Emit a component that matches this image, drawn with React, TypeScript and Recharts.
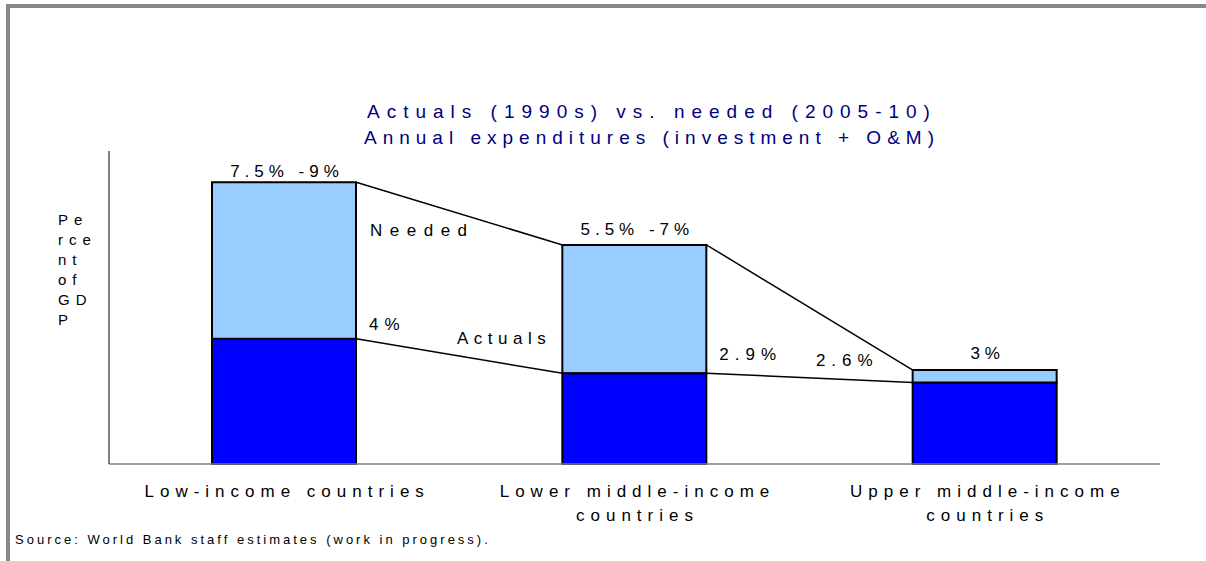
import { ComposedChart, Bar, Line, XAxis, YAxis, LabelList } from "recharts";

const categories = [
  "Low-income countries",
  "Lower middle-income countries",
  "Upper middle-income countries",
];
const tickLines = [
  ["Low-income countries"],
  ["Lower middle-income", "countries"],
  ["Upper middle-income", "countries"],
];
const actuals = [4, 2.9, 2.6];
const neededTotal = [9, 7, 3];
const neededLabels = ["7.5% -9%", "5.5% -7%", "3%"];
const actualLabels = ["4%", "2.9%", "2.6%"];
const titleLines = [
  "Actuals (1990s) vs. needed (2005-10)",
  "Annual expenditures (investment + O&M)",
];
const yLabelLines = ["Pe", "rce", "nt", "of", "GD", "P"];
const sourceNote = "Source: World Bank staff estimates (work in progress).";

const W = 1206;
const H = 561;
const MARGIN = { top: 151, right: 46, bottom: 37, left: 108 };
const Y_AXIS_W = 1;
const BAR_SIZE = 144;
const FONT = "'Liberation Sans', Arial, Helvetica, sans-serif";

const data = categories.map((name, i) => ({
  name,
  actual: actuals[i],
  gap: neededTotal[i] - actuals[i],
}));

// connector lines run between bar edges, on a hidden numeric x axis [0, n]
const bandPx = (W - MARGIN.left - Y_AXIS_W - MARGIN.right) / categories.length;
const half = BAR_SIZE / 2 / bandPx;
const edgePoints = (vals: number[]) => {
  const pts: { pos: number; v: number }[] = [];
  vals.forEach((v, i) => {
    if (i > 0) pts.push({ pos: i + 0.5 - half, v });
    if (i < vals.length - 1) pts.push({ pos: i + 0.5 + half, v });
  });
  return pts;
};
const neededLine = edgePoints(neededTotal);
const actualLine = edgePoints(actuals);

const CategoryTick = (props: any) => {
  const { x, y, payload } = props;
  const idx = categories.indexOf(payload.value);
  const lines = tickLines[idx] ?? [payload.value];
  return (
    <text x={x + 3} y={y} textAnchor="middle" fontSize={17} letterSpacing={6} fill="#000" fontFamily={FONT}>
      {lines.map((l, i) => (
        <tspan key={i} x={x + 3} dy={i === 0 ? 25 : 24}>
          {l}
        </tspan>
      ))}
    </text>
  );
};

const NeededLabel = (props: any) => {
  const { x, y, width, index } = props;
  const off = [5, 10, 11][index] ?? 8;
  return (
    <text x={x + width / 2 + 3} y={y - off} textAnchor="middle" fontSize={17} letterSpacing={5} fill="#000" fontFamily={FONT}>
      {neededLabels[index]}
    </text>
  );
};

const ActualLabel = (props: any) => {
  const { x, y, width, index } = props;
  const last = index === actuals.length - 1;
  return (
    <text
      x={last ? x - 34 : x + width + 13}
      y={y - [9, 13, 17][index]}
      textAnchor={last ? "end" : "start"}
      fontSize={17}
      letterSpacing={6}
      fill="#000"
      fontFamily={FONT}
    >
      {actualLabels[index]}
    </text>
  );
};

export default function App() {
  return (
    <div style={{ position: "absolute", left: 0, top: 0, width: W, height: H, background: "#fff", fontFamily: FONT }}>
      <div
        style={{
          position: "absolute",
          left: 6,
          top: 4,
          right: 0,
          bottom: 0,
          borderTop: "4px solid #888",
          borderLeft: "4px solid #888",
        }}
      />
      <ComposedChart width={W} height={H} data={data} margin={MARGIN} style={{ position: "absolute", left: 0, top: 0 }}>
        <XAxis
          dataKey="name"
          height={60}
          interval={0}
          tickLine={false}
          axisLine={{ stroke: "#808080", strokeWidth: 1.5 }}
          tick={<CategoryTick />}
        />
        <XAxis xAxisId="pos" type="number" dataKey="pos" domain={[0, categories.length]} hide allowDataOverflow />
        <YAxis width={Y_AXIS_W} domain={[0, 10]} tick={false} tickLine={false} axisLine={{ stroke: "#000", strokeWidth: 1 }} />
        <Bar dataKey="actual" stackId="a" fill="#0000FF" stroke="#000" strokeWidth={2} barSize={BAR_SIZE} isAnimationActive={false}>
          <LabelList dataKey="actual" content={<ActualLabel />} />
        </Bar>
        <Bar dataKey="gap" stackId="a" fill="#99CCFF" stroke="#000" strokeWidth={2} barSize={BAR_SIZE} isAnimationActive={false}>
          <LabelList dataKey="gap" content={<NeededLabel />} />
        </Bar>
        <Line xAxisId="pos" data={neededLine} dataKey="v" type="linear" stroke="#000" strokeWidth={1.5} dot={false} activeDot={false} isAnimationActive={false} />
        <Line xAxisId="pos" data={actualLine} dataKey="v" type="linear" stroke="#000" strokeWidth={1.5} dot={false} activeDot={false} isAnimationActive={false} />
      </ComposedChart>
      <svg width={W} height={H} style={{ position: "absolute", left: 0, top: 0, pointerEvents: "none" }}>
        {titleLines.map((t, i) => (
          <text key={t} x={652} y={118 + i * 26} textAnchor="middle" fontSize={19} letterSpacing={i === 0 ? 7 : 6} fill="#000080" fontFamily={FONT}>
            {t}
          </text>
        ))}
        {yLabelLines.map((t, i) => (
          <text key={i} x={58} y={225 + i * 20} fontSize={15} letterSpacing={6} fill="#000" fontFamily={FONT}>
            {t}
          </text>
        ))}
        <text x={370} y={236} fontSize={17} letterSpacing={7.5} fill="#000" fontFamily={FONT}>
          Needed
        </text>
        <text x={457} y={344} fontSize={17} letterSpacing={5.5} fill="#000" fontFamily={FONT}>
          Actuals
        </text>
        <text x={15} y={544} fontSize={13} letterSpacing={3} fill="#000" fontFamily={FONT}>
          {sourceNote}
        </text>
      </svg>
    </div>
  );
}
